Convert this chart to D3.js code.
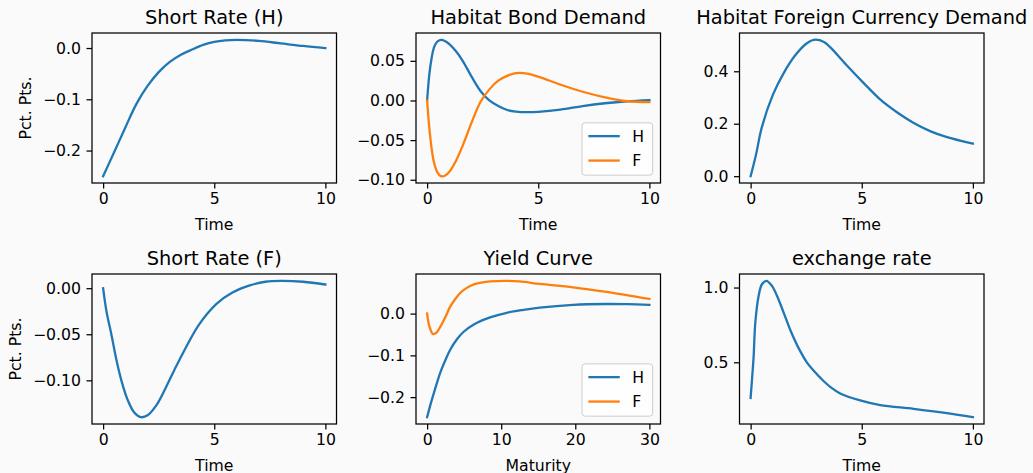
<!DOCTYPE html>
<html lang="en">
<head>
<meta charset="utf-8">
<title>Habitat model responses</title>
<script src="https://cdn.jsdelivr.net/npm/d3@7"></script>
<style>
    body { margin: 0; background: #fafafa; }
    svg { display: block; }
    text { font-family: "DejaVu Sans", sans-serif; fill: #000; }
</style>
</head>
<body>
<div id="chart"></div>
<script>

// values
var shortRateHTime  = [0, 0.5, 1, 1.5, 2, 2.5, 3, 3.5, 4, 4.5, 5, 5.5, 6, 7, 8, 9, 10];
var shortRateHValue = [-0.25, -0.203, -0.155, -0.109, -0.074, -0.047, -0.027, -0.013, -0.003, 0.006, 0.012, 0.015, 0.016, 0.014, 0.009, 0.004, 0.000];

var bondTime   = [0, 0.1, 0.2, 0.3, 0.45, 0.62, 0.8, 1, 1.3, 1.6, 2, 2.4, 2.8, 3.2, 3.6, 4, 4.5, 5, 6, 7, 8, 9, 10];
var bondHValue = [0, 0.033, 0.053, 0.066, 0.074, 0.0765, 0.075, 0.071, 0.062, 0.050, 0.030, 0.012, 0.000, -0.007, -0.012, -0.014, -0.0148, -0.0143, -0.0115, -0.007, -0.0035, -0.001, 0.0005];
var bondFValue = [0, -0.035, -0.060, -0.077, -0.090, -0.0955, -0.095, -0.090, -0.076, -0.057, -0.028, -0.002, 0.014, 0.025, 0.031, 0.0345, 0.034, 0.030, 0.020, 0.011, 0.004, -0.001, -0.002];

var fxDemandTime  = [0, 0.25, 0.5, 1, 1.5, 2, 2.5, 2.85, 3.3, 3.6, 4.3, 5.1, 5.8, 6.6, 7.3, 8.1, 8.8, 10];
var fxDemandValue = [0, 0.085, 0.185, 0.31, 0.395, 0.46, 0.505, 0.52, 0.512, 0.49, 0.425, 0.354, 0.295, 0.243, 0.205, 0.171, 0.150, 0.124];

var shortRateFTime  = [0, 0.15, 0.37, 0.6, 0.82, 1.1, 1.4, 1.7, 2.0, 2.4, 2.84, 3.2, 3.6, 4.3, 5.1, 5.8, 6.6, 7.3, 8, 9, 10];
var shortRateFValue = [0, -0.025, -0.05, -0.078, -0.1, -0.121, -0.135, -0.140, -0.138, -0.127, -0.107, -0.089, -0.07, -0.04, -0.017, -0.005, 0.003, 0.007, 0.008, 0.007, 0.004];

var yieldHMaturity = [0, 0.5, 1, 1.8, 2.5, 3.1, 4, 4.9, 6.3, 8.5, 10.75, 13, 15.2, 19.7, 24.2, 27, 30];
var yieldHValue    = [-0.248, -0.215, -0.185, -0.140, -0.110, -0.087, -0.062, -0.044, -0.026, -0.009, 0.002, 0.009, 0.0144, 0.021, 0.023, 0.0225, 0.021];
var yieldFMaturity = [0, 0.3, 0.8, 1.3, 1.8, 2.5, 3.1, 3.8, 4.5, 5.3, 6.3, 7.5, 8.5, 10.3, 12.5, 15.2, 19.7, 24.2, 30];
var yieldFValue    = [0, -0.03, -0.049, -0.045, -0.031, -0.007, 0.016, 0.035, 0.05, 0.061, 0.07, 0.075, 0.077, 0.0785, 0.077, 0.071, 0.063, 0.052, 0.035];

var exchangeTime  = [0, 0.07, 0.136, 0.21, 0.36, 0.51, 0.71, 0.96, 1.19, 1.49, 1.78, 2.16, 2.53, 2.83, 3.28, 3.58, 4.03, 4.93, 5.83, 7.33, 8.83, 10];
var exchangeValue = [0.262, 0.40, 0.54, 0.763, 0.944, 1.022, 1.045, 1.011, 0.944, 0.831, 0.718, 0.595, 0.50, 0.445, 0.375, 0.336, 0.292, 0.245, 0.214, 0.189, 0.16, 0.133];

// tick labels
var timeTicks     = [0, 5, 10];
var maturityTicks = [0, 10, 20, 30];
var rateHTicks    = [-0.2, -0.1, 0.0];
var bondTicks     = [-0.10, -0.05, 0.00, 0.05];
var fxDemandTicks = [0.0, 0.2, 0.4];
var rateFTicks    = [-0.10, -0.05, 0.00];
var yieldTicks    = [-0.2, -0.1, 0.0];
var exchangeTicks = [0.5, 1.0];

var seriesNames = ["H", "F"];
var colors = ["#1f77b4", "#ff7f0e"];

function pairs(xs, ys) {
    return xs.map(function(x, i) { return {x: x, y: ys[i]}; });
}

var panels = [
    {title: "Short Rate (H)", xlabel: "Time", ylabel: "Pct. Pts.", xTicks: timeTicks, yTicks: rateHTicks, fmt: ".1f",
     series: [pairs(shortRateHTime, shortRateHValue)]},
    {title: "Habitat Bond Demand", xlabel: "Time", xTicks: timeTicks, yTicks: bondTicks, fmt: ".2f", legend: true,
     series: [pairs(bondTime, bondHValue), pairs(bondTime, bondFValue)]},
    {title: "Habitat Foreign Currency Demand", xlabel: "Time", xTicks: timeTicks, yTicks: fxDemandTicks, fmt: ".1f",
     series: [pairs(fxDemandTime, fxDemandValue)]},
    {title: "Short Rate (F)", xlabel: "Time", ylabel: "Pct. Pts.", xTicks: timeTicks, yTicks: rateFTicks, fmt: ".2f",
     series: [pairs(shortRateFTime, shortRateFValue)]},
    {title: "Yield Curve", xlabel: "Maturity", xTicks: maturityTicks, yTicks: yieldTicks, fmt: ".1f", legend: true,
     series: [pairs(yieldHMaturity, yieldHValue), pairs(yieldFMaturity, yieldFValue)]},
    {title: "exchange rate", xlabel: "Time", xTicks: timeTicks, yTicks: exchangeTicks, fmt: ".1f",
     series: [pairs(exchangeTime, exchangeValue)]}
];

// grid of axes
var W = 1033, H = 473;
var colLeft = [92, 416, 739.5], rowTop = [33, 274];
var pw = 244.5, ph = 150;
var tickFont = 15.7, titleFont = 19.4;

var svg = d3.select("#chart").append("svg")
    .attr("width", W)
    .attr("height", H);

svg.append("rect").attr("width", W).attr("height", H).attr("fill", "#fafafa");

function minusFmt(f) {
    var base = d3.format(f);
    return function(d) { return base(d).replace("-", "\u2212"); };
}

panels.forEach(function(p, i) {
    var g = svg.append("g")
        .attr("transform", "translate(" + colLeft[i % 3] + "," + rowTop[Math.floor(i / 3)] + ")");

    // matplotlib style 5% margins
    var all = [].concat.apply([], p.series);
    var xe = d3.extent(all, function(d) { return d.x; }),
        ye = d3.extent(all, function(d) { return d.y; });
    var xm = (xe[1] - xe[0]) * 0.05, ym = (ye[1] - ye[0]) * 0.05;

    var x = d3.scaleLinear().domain([xe[0] - xm, xe[1] + xm]).range([0, pw]);
    var y = d3.scaleLinear().domain([ye[0] - ym, ye[1] + ym]).range([ph, 0]);

    // lines
    var line = d3.line()
        .x(function(d) { return x(d.x); })
        .y(function(d) { return y(d.y); })
        .curve(d3.curveCatmullRom.alpha(0.5));

    p.series.forEach(function(s, k) {
        g.append("path")
            .datum(s)
            .attr("fill", "none")
            .attr("stroke", colors[k])
            .attr("stroke-width", 2.3)
            .attr("stroke-linecap", "square")
            .attr("d", line);
    });

    // axes
    var xa = g.append("g")
        .attr("transform", "translate(0," + ph + ")")
        .call(d3.axisBottom(x).tickValues(p.xTicks).tickFormat(d3.format("d"))
            .tickSize(5.5).tickSizeOuter(0).tickPadding(4.5));
    var ya = g.append("g")
        .call(d3.axisLeft(y).tickValues(p.yTicks).tickFormat(minusFmt(p.fmt))
            .tickSize(5.5).tickSizeOuter(0).tickPadding(5.5));

    [xa, ya].forEach(function(a) {
        a.select(".domain").remove();
        a.attr("font-family", null).attr("font-size", null);
        a.selectAll("line").attr("stroke", "#000").attr("stroke-width", 1.25);
        a.selectAll("text").attr("fill", "#000").style("font-size", tickFont + "px");
    });

    // frame
    g.append("rect")
        .attr("width", pw).attr("height", ph)
        .attr("fill", "none")
        .attr("stroke", "#000")
        .attr("stroke-width", 1.25);

    g.append("text")
        .attr("x", pw / 2).attr("y", -9.4)
        .attr("text-anchor", "middle")
        .style("font-size", titleFont + "px")
        .text(p.title);

    g.append("text")
        .attr("x", pw / 2).attr("y", ph + 46.5)
        .attr("text-anchor", "middle")
        .style("font-size", tickFont + "px")
        .text(p.xlabel);

    if (p.ylabel) {
        var left = d3.min(ya.selectAll("text").nodes(), function(n) { return n.getBBox().x; });
        g.append("text")
            .attr("transform", "translate(" + (left - 12) + "," + (ph / 2) + ") rotate(-90)")
            .attr("text-anchor", "middle")
            .style("font-size", tickFont + "px")
            .text(p.ylabel);
    }

    if (p.legend) {
        var lw = 70.6, lh = 52.3;
        var lg = g.append("g")
            .attr("transform", "translate(" + (pw - 7.85 - lw) + "," + (ph - 7.85 - lh) + ")");
        lg.append("rect")
            .attr("width", lw).attr("height", lh)
            .attr("rx", 3).attr("ry", 3)
            .attr("fill", "#fff").attr("fill-opacity", 0.8)
            .attr("stroke", "#cccccc").attr("stroke-width", 1);
        seriesNames.forEach(function(name, k) {
            var yy = 13.3 + k * 24.4;
            lg.append("line")
                .attr("x1", 6.3).attr("x2", 37.7)
                .attr("y1", yy).attr("y2", yy)
                .attr("stroke", colors[k]).attr("stroke-width", 2.3);
            lg.append("text")
                .attr("x", 50.3).attr("y", yy)
                .attr("dy", "0.36em")
                .style("font-size", tickFont + "px")
                .text(name);
        });
    }
});
</script>
</body>
</html>
